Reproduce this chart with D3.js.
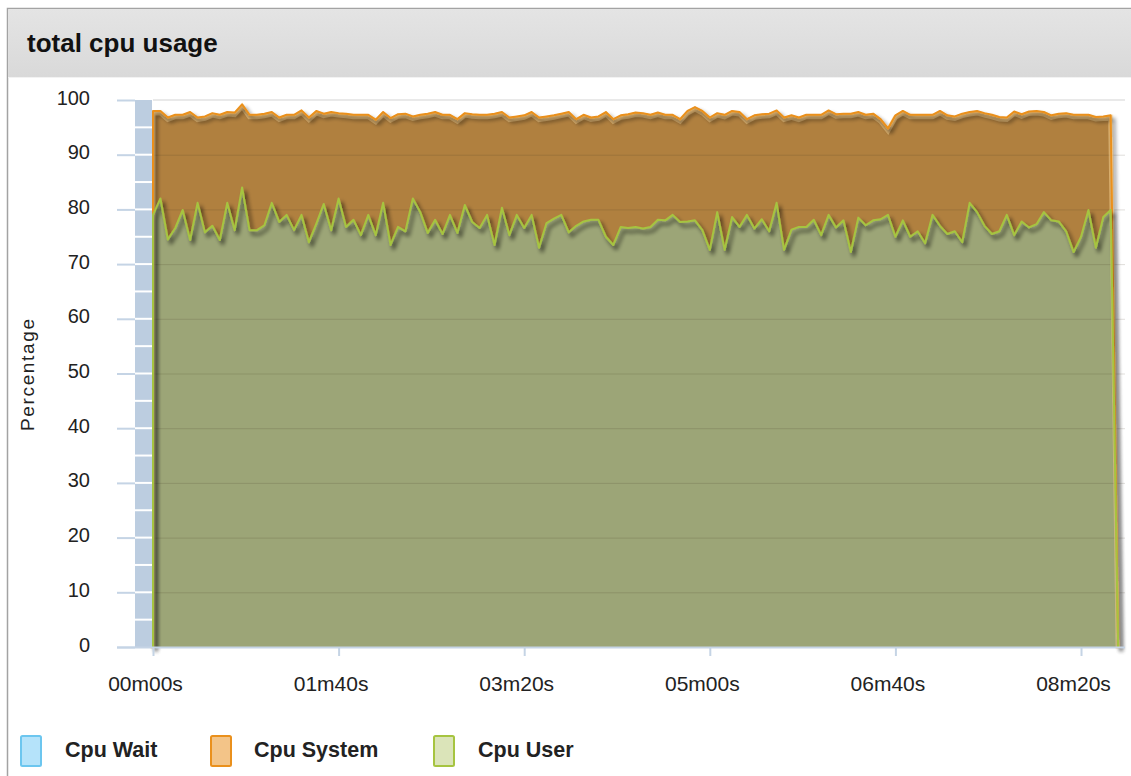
<!DOCTYPE html>
<html><head><meta charset="utf-8">
<script src="https://cdn.jsdelivr.net/npm/d3@7"></script>
<style>
html,body{margin:0;padding:0;background:#fff;}
svg{display:block;font-family:"Liberation Sans",Arial,sans-serif;}
</style></head><body>
<svg id="chart" width="1131" height="776"></svg>
<script>
const chartTitle = "total cpu usage";
const yAxisTitle = "Percentage";
const seriesNames = ["Cpu Wait", "Cpu System", "Cpu User"];
const xTickValues = [0, 100, 200, 300, 400, 500];
const xTickLabels = ["00m00s", "01m40s", "03m20s", "05m00s", "06m40s", "08m20s"];
const yTickValues = [0, 10, 20, 30, 40, 50, 60, 70, 80, 90, 100];
const sampleStep = 4;   // seconds between samples
const endTime = 520;    // final (zero) sample
// first and last entries are the zero samples at the start / end of the run
const cpuUser = [0,
 79, 82, 74.5, 76.6, 79.9, 74.4, 81.2, 75.8, 77, 74.4,
 81.2, 76.2, 84, 76.2, 76.2, 77.1, 81.2, 77.7, 79, 76.2,
 79, 74, 77.4, 81, 76.2, 82, 76.8, 78.1, 75.3, 79,
 75.3, 81.2, 73.5, 76.8, 76, 82, 79.5, 75.7, 78.1, 75.5,
 79, 75.7, 80.8, 77.7, 76.6, 79, 73.5, 80.3, 75.3, 79,
 76.6, 79, 73, 77.5, 78.3, 79, 75.8, 77, 77.8, 78.1,
 78.1, 75, 73.5, 76.8, 76.6, 76.8, 76.5, 76.8, 78.1, 78,
 79, 77.7, 77.8, 78, 76.2, 72.6, 79.5, 72.6, 78.6, 76.8,
 79, 76.5, 78.2, 76, 81.2, 72.6, 76.3, 76.8, 76.8, 78.1,
 75.3, 79, 76.7, 78, 72.2, 78.5, 77.1, 78, 78.2, 79,
 75, 78, 75, 76, 73.8, 79, 77, 75.5, 76, 74,
 81.2, 79.5, 77, 75.5, 76, 79, 75.3, 77.8, 76.7, 77.3,
 79.5, 78, 77.8, 76, 72.2, 75, 79.9, 73, 78.6, 79.9,
 0];
const cpuSystem = [0,
 19, 16, 22.3, 20.7, 17.4, 23.4, 15.6, 21.2, 20.6, 22.9,
 16.6, 21.5, 15.2, 21.1, 21.1, 20.4, 16.6, 19.1, 18.3, 21.1,
 19.1, 22.8, 20.6, 16.5, 21.6, 15.6, 20.7, 19.2, 22, 18.3,
 21.1, 16.6, 23.2, 20.6, 21.5, 15, 17.8, 21.8, 19.7, 21.8,
 18.3, 20.8, 16.8, 19.7, 20.7, 18.3, 24, 17.5, 21.5, 18,
 20.6, 18.8, 23.8, 19.5, 18.9, 18.5, 22, 19.5, 19.5, 18.7,
 18.9, 22.8, 23, 20.4, 20.8, 20.9, 21.1, 20.5, 19.6, 19.3,
 18.3, 18.8, 20.2, 20.7, 21.8, 24.2, 18.1, 24.7, 19.4, 21,
 17.5, 20.7, 19.2, 21.5, 16.9, 24.2, 20.9, 20, 20.5, 19.2,
 22, 19.1, 20.7, 19.5, 25.3, 19.3, 20.2, 19.5, 18.3, 15.8,
 22.2, 20, 22.3, 21.3, 23.5, 18.3, 21, 21.7, 21, 23.5,
 16.6, 18.5, 20.6, 21.8, 20.9, 17.8, 22.6, 19.6, 21.2, 20.7,
 18.3, 19.2, 19.7, 21.6, 25.1, 22.3, 17.4, 23.9, 18.4, 17.3,
 0];

const sampleTimes = cpuUser.map((_, i) =>
  i === 0 ? 0 : (i === cpuUser.length - 1 ? endTime : (i - 1) * sampleStep));
const rows = sampleTimes.map((t, i) => ({ t, user: cpuUser[i], system: cpuSystem[i] }));

const colors = {
  waitFill: "#b5e3fa", waitStroke: "#6cc6ef",
  sysArea: "#b0803f", sysLine: "#ea901c", sysLegend: "#f3c488",
  userArea: "#9ca577", userLine: "#a6c440", userLegend: "#dbe4b9"
};

const svg = d3.select("#chart");
const W = 1131, H = 776;

// frame + title bar
const defs = svg.append("defs");
const grad = defs.append("linearGradient").attr("id", "tb").attr("x1", 0).attr("y1", 0).attr("x2", 0).attr("y2", 1);
grad.append("stop").attr("offset", 0).attr("stop-color", "#e4e4e4");
grad.append("stop").attr("offset", 1).attr("stop-color", "#d9d9d9");
const sh = defs.append("filter").attr("id", "shadow")
  .attr("filterUnits", "userSpaceOnUse").attr("x", 0).attr("y", 0).attr("width", W).attr("height", H);
sh.append("feGaussianBlur").attr("in", "SourceAlpha").attr("stdDeviation", 2).attr("result", "b");
sh.append("feOffset").attr("in", "b").attr("dx", 3).attr("dy", 4).attr("result", "o");
sh.append("feComponentTransfer").attr("in", "o").attr("result", "s")
  .append("feFuncA").attr("type", "linear").attr("slope", 0.7);
const mg = sh.append("feMerge");
mg.append("feMergeNode").attr("in", "s");
mg.append("feMergeNode").attr("in", "SourceGraphic");

svg.append("rect").attr("x", 7.5).attr("y", 8.5).attr("width", W).attr("height", H)
  .attr("fill", "#fff").attr("stroke", "#a3a3a3").attr("stroke-width", 1.5);
svg.append("rect").attr("x", 8.2).attr("y", 9.2).attr("width", W).attr("height", 68)
  .attr("fill", "url(#tb)");
svg.append("line").attr("x1", 8).attr("x2", W).attr("y1", 77.5).attr("y2", 77.5)
  .attr("stroke", "#f2f2f2").attr("stroke-width", 1);
svg.append("text").attr("x", 27).attr("y", 52).attr("font-size", 26).attr("font-weight", "bold")
  .attr("fill", "#111").text(chartTitle);

// scales
const x = d3.scaleLinear().domain([0, 523.7]).range([153, 1125]);
const y = d3.scaleLinear().domain([0, 100]).range([647, 100]);

// top grid line
svg.append("line").attr("x1", x(0)).attr("x2", x.range()[1]).attr("y1", y(100)).attr("y2", y(100))
  .attr("stroke", "#e2e2e2").attr("stroke-width", 1.5);

// stacked areas
const stack = d3.stack().keys(["user", "system"]);
const layers = stack(rows);
const area = d3.area().x(d => x(d.data.t)).y0(d => y(d[0])).y1(d => y(d[1]));
const line = d3.line().x(d => x(d.data.t)).y(d => y(d[1]));

svg.append("path").datum(layers[1]).attr("d", area).attr("fill", colors.sysArea);
svg.append("path").datum(layers[0]).attr("d", area).attr("fill", colors.userArea);

// grid lines over data
svg.append("g").selectAll("line").data(yTickValues.filter(v => v > 0 && v < 100)).join("line")
  .attr("x1", x(0)).attr("x2", x.range()[1]).attr("y1", d => y(d) + 0.5).attr("y2", d => y(d) + 0.5)
  .attr("stroke", "rgba(60,50,30,0.16)").attr("stroke-width", 1);

// lines with shadow
svg.append("path").datum(layers[1]).attr("d", line)
  .attr("fill", "none").attr("stroke", "rgba(255,215,150,0.55)").attr("stroke-width", 5)
  .attr("transform", "translate(0,2)");
svg.append("path").datum(layers[1]).attr("d", line).attr("fill", "none")
  .attr("stroke", colors.sysLine).attr("stroke-width", 2).attr("stroke-linejoin", "round")
  .attr("filter", "url(#shadow)");
svg.append("path").datum(layers[0]).attr("d", line).attr("fill", "none")
  .attr("stroke", colors.userLine).attr("stroke-width", 2).attr("stroke-linejoin", "round")
  .attr("filter", "url(#shadow)");

// y axis band with 5-unit separators
svg.append("rect").attr("x", 135).attr("y", y(100)).attr("width", 17).attr("height", y(0) - y(100))
  .attr("fill", "#bccde0");
svg.append("g").selectAll("line").data(d3.range(5, 100, 5)).join("line")
  .attr("x1", 135).attr("x2", 152).attr("y1", d => y(d)).attr("y2", d => y(d))
  .attr("stroke", "#fff").attr("stroke-width", 2);

// y axis ticks + labels
const yAxis = d3.axisLeft(y).tickValues(yTickValues).tickSize(18).tickPadding(27);
const gy = svg.append("g").attr("transform", "translate(135,0)").call(yAxis);
gy.select(".domain").remove();
gy.selectAll(".tick line").attr("stroke", "#c5d4e5").attr("stroke-width", 2);
gy.selectAll(".tick text").attr("font-size", 20).attr("fill", "#222")
  .attr("font-family", "'Liberation Sans',Arial,sans-serif").attr("dy", "0.2em");

// x axis
const xAxis = d3.axisBottom(x).tickValues(xTickValues).tickFormat((d, i) => xTickLabels[i])
  .tickSize(9).tickPadding(20);
const gx = svg.append("g").attr("transform", `translate(0,${y(0)})`).call(xAxis);
gx.select(".domain").remove();
gx.selectAll(".tick line").attr("stroke", "#c5d4e5").attr("stroke-width", 2);
gx.selectAll(".tick text").attr("font-size", 21).attr("fill", "#222").attr("dx", -8)
  .attr("font-family", "'Liberation Sans',Arial,sans-serif");
svg.append("line").attr("x1", 117).attr("x2", x.range()[1]).attr("y1", y(0) + 0.5).attr("y2", y(0) + 0.5)
  .attr("stroke", "#c5d4e5").attr("stroke-width", 2);

// y axis title
svg.append("text").attr("transform", "translate(34,375) rotate(-90)").attr("text-anchor", "middle")
  .attr("font-size", 19).attr("fill", "#222").attr("textLength", 112).attr("lengthAdjust", "spacing")
  .text(yAxisTitle);

// legend
const legend = [
  { name: seriesNames[0], fill: colors.waitFill, stroke: colors.waitStroke, rx: 21, tx: 65 },
  { name: seriesNames[1], fill: colors.sysLegend, stroke: colors.sysLine, rx: 211, tx: 254 },
  { name: seriesNames[2], fill: colors.userLegend, stroke: colors.userLine, rx: 434, tx: 478 }
];
const lg = svg.append("g").selectAll("g").data(legend).join("g");
lg.append("rect").attr("x", d => d.rx).attr("y", 736).attr("width", 20).attr("height", 30).attr("rx", 1.5)
  .attr("fill", d => d.fill).attr("stroke", d => d.stroke).attr("stroke-width", 2);
lg.append("text").attr("x", d => d.tx).attr("y", 757).attr("font-size", 21.5).attr("font-weight", "bold")
  .attr("fill", "#222").text(d => d.name);
</script>
</body></html>
